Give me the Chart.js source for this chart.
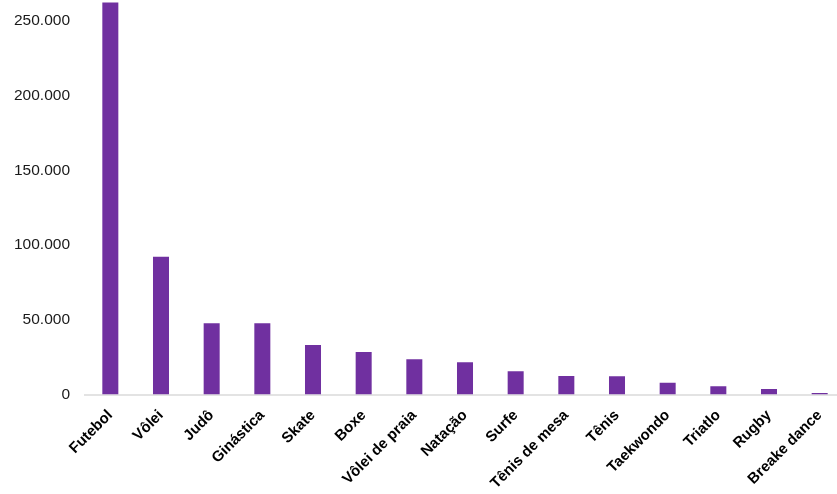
<!DOCTYPE html>
<html>
<head>
<meta charset="utf-8">
<script src="https://cdn.jsdelivr.net/npm/chart.js@4"></script>
<style>
html,body{margin:0;padding:0;background:#fff;overflow:hidden;width:837px;height:494px;}
#wrap{width:845px;height:494px;}
</style>
</head>
<body>
<div id="wrap"><canvas id="c" width="845" height="494"></canvas></div>
<script>
const categories = ["Futebol","Vôlei","Judô","Ginástica","Skate","Boxe","Vôlei de praia","Natação","Surfe","Tênis de mesa","Tênis","Taekwondo","Triatlo","Rugby","Breake dance"];
const values = [262400, 92200, 47700, 47700, 33200, 28500, 23600, 21600, 15500, 12400, 12200, 7900, 5500, 3700, 1000];
const yTicks = [0, 50000, 100000, 150000, 200000, 250000];

function fmt(v){
  return String(Math.round(v)).replace(/\B(?=(\d{3})+(?!\d))/g, ".");
}

new Chart(document.getElementById('c'), {
  type: 'bar',
  data: {
    labels: categories,
    datasets: [{
      data: values,
      backgroundColor: '#7030A0',
      borderWidth: 0,
      barPercentage: 0.316,
      categoryPercentage: 1
    }]
  },
  options: {
    responsive: false,
    animation: false,
    devicePixelRatio: 1,
    layout: { padding: 0 },
    plugins: { legend: { display: false }, tooltip: { enabled: false } },
    scales: {
      x: {
        grid: { display: false, drawTicks: false },
        border: { display: true, color: '#e3e3e3', width: 2 },
        ticks: {
          color: '#000',
          font: { family: 'Liberation Sans, Arial, sans-serif', size: 15, weight: 'bold' },
          maxRotation: 45, minRotation: 45,
          autoSkip: false,
          padding: 12
        },
        afterFit: function(s){ s.height = 99.5; s.paddingLeft = 0; s.paddingRight = 0; }
      },
      y: {
        min: 0,
        max: 264000,
        grid: { display: false, drawTicks: false },
        border: { display: false },
        afterBuildTicks: function(s){ s.ticks = yTicks.map(v => ({ value: v })); },
        ticks: {
          color: '#1a1a1a',
          font: { family: 'Liberation Sans, Arial, sans-serif', size: 15.5 },
          padding: 15,
          callback: function(v){ return fmt(v); }
        },
        afterFit: function(s){ s.width = 85; s.paddingTop = 0; s.paddingBottom = 0; }
      }
    }
  }
});
</script>
</body>
</html>
